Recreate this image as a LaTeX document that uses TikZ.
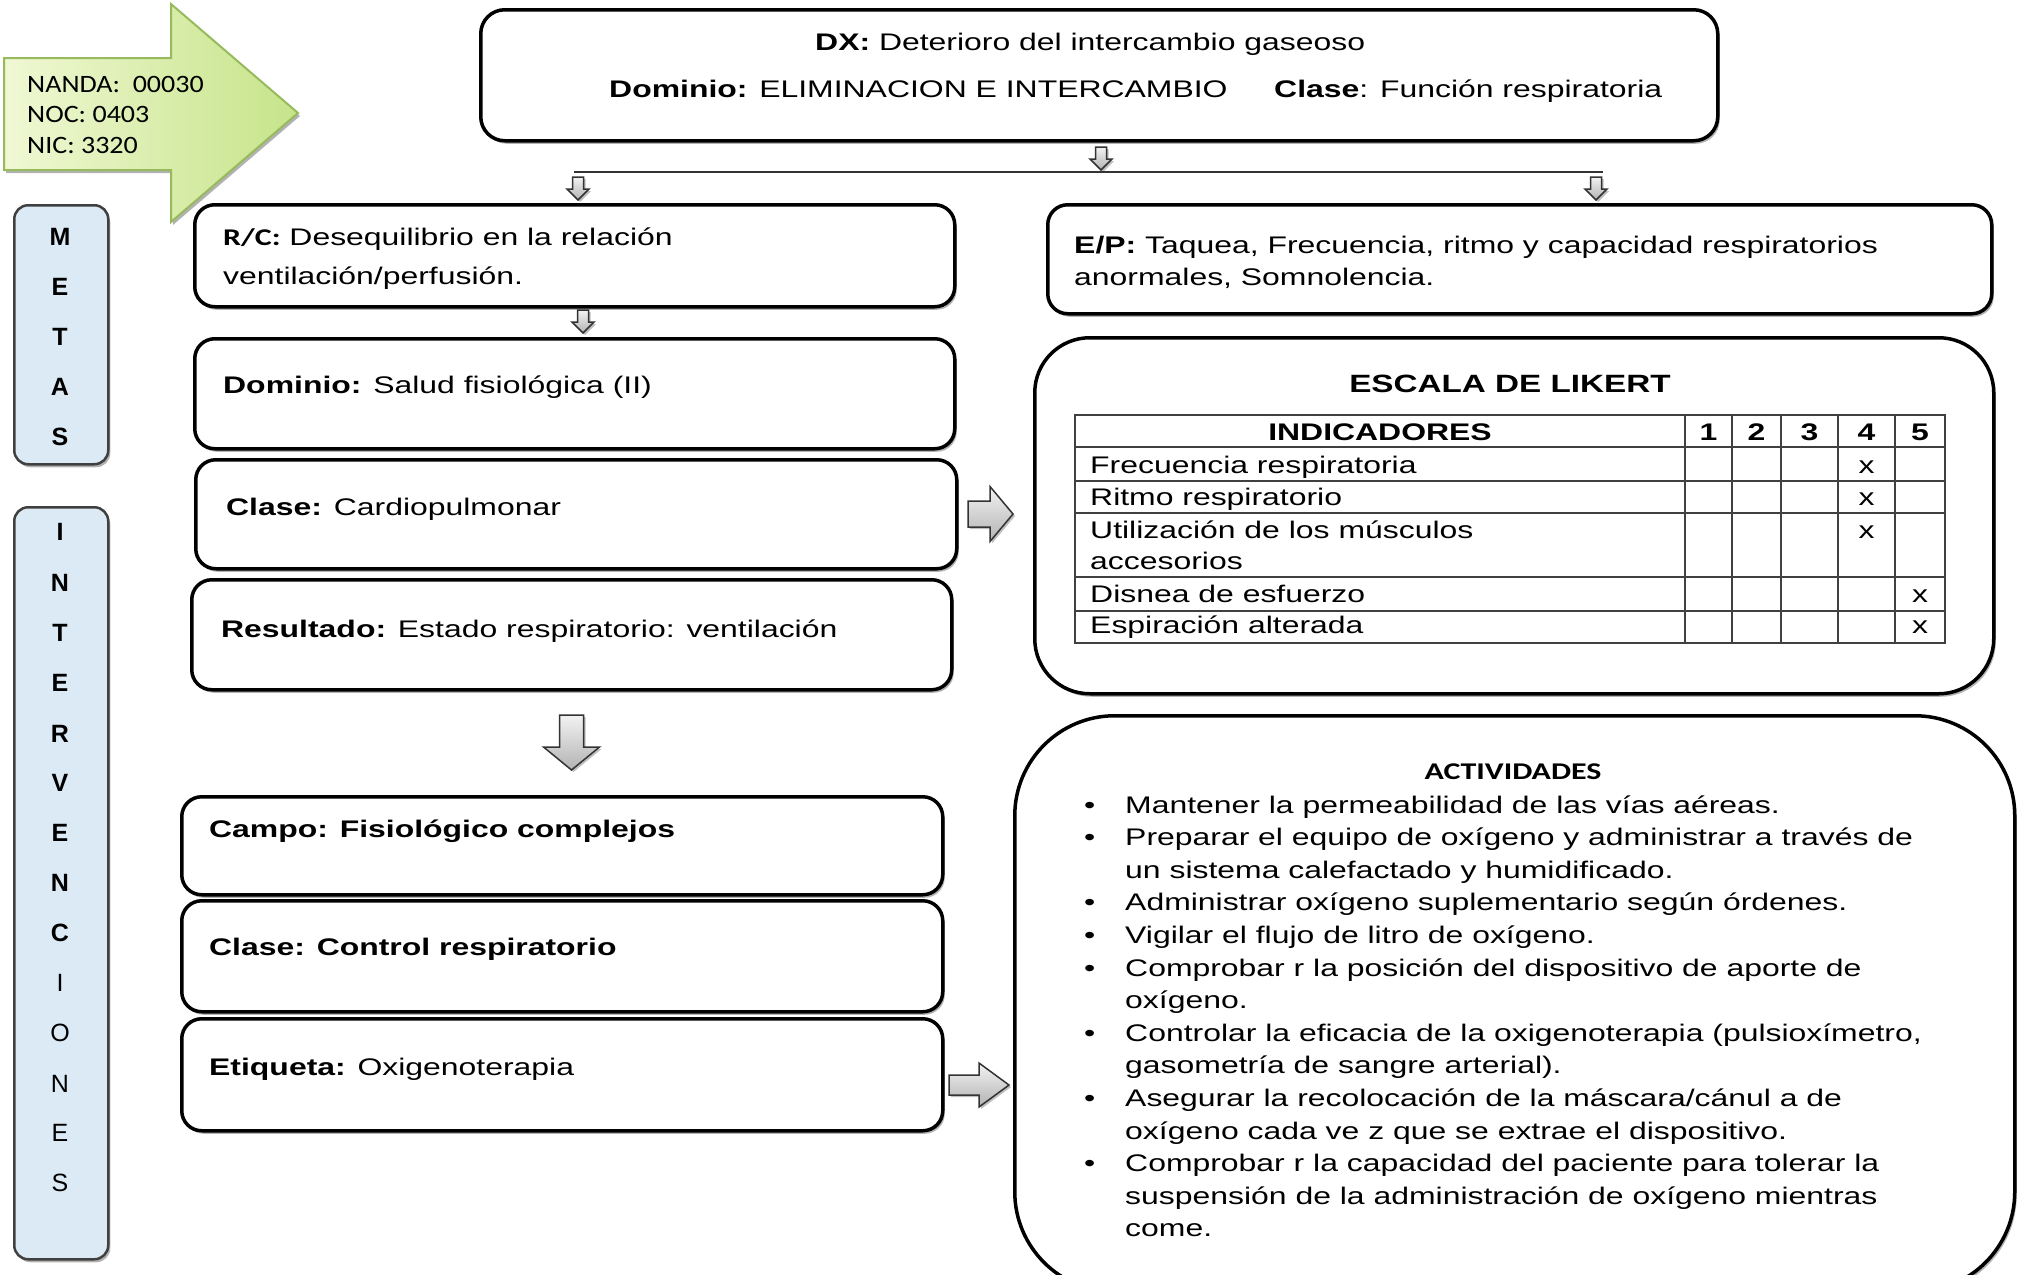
\documentclass[tikz,border=0pt]{standalone}
\usepackage{fontspec}
\setmainfont{Liberation Sans}[FakeStretch=1.33]
\newfontfamily\calfont{Carlito}[FakeStretch=1.33]
\newfontfamily\grfont{Carlito}[FakeStretch=1.12]
\newfontfamily\plainsans{Liberation Sans}
\usetikzlibrary{shadows,calc}
\definecolor{grlight}{RGB}{240,248,212}
\definecolor{grdark}{RGB}{198,228,138}
\definecolor{grborder}{RGB}{150,186,92}
\definecolor{bluefill}{RGB}{219,234,244}
\tikzset{
  shd/.style={drop shadow={shadow xshift=2pt, shadow yshift=-3pt, opacity=0.3, fill=black}},
  box/.style={draw, line width=3.5pt, fill=white, rounded corners=20pt, inner sep=0pt, anchor=north west, shd},
  side/.style={draw=black!75, line width=2.5pt, fill=bluefill, rounded corners=14pt, inner sep=0pt, anchor=north west, shd},
  txt/.style={inner sep=0pt, anchor=base west, font=\fontsize{24pt}{32pt}\selectfont},
  ctxt/.style={txt, anchor=base},
  grtxt/.style={inner sep=0pt, anchor=base west, font=\grfont\fontsize{25pt}{31pt}\selectfont},
  sidelet/.style={inner sep=0pt, anchor=center, font=\plainsans\fontsize{25pt}{30pt}\selectfont},
  blk/.style={draw=black!80, line width=1.5pt, top color=black!5, bottom color=black!30, drop shadow={shadow xshift=2pt, shadow yshift=-2pt, opacity=0.25, fill=black}},
  tline/.style={draw=black!75, line width=1.5pt},
  sarr/.pic={\path[blk] (-5.5,0) -- (5.5,0) -- (5.5,12) -- (11,12) -- (0,23) -- (-11,12) -- (-5.5,12) -- cycle;},
  barr/.pic={\path[blk] (-12,0) -- (12,0) -- (12,32) -- (28,32) -- (0,55) -- (-28,32) -- (-12,32) -- cycle;},
  rarrA/.pic={\path[blk] (0,-13) -- (22,-13) -- (22,-27.5) -- (45,0) -- (22,27.5) -- (22,13) -- (0,13) -- cycle;},
  rarrB/.pic={\path[blk] (0,-10) -- (30,-10) -- (30,-22) -- (60,0) -- (30,22) -- (30,10) -- (0,10) -- cycle;},
}
\begin{document}
\begin{tikzpicture}[x=1pt,y=-1pt]
\useasboundingbox (0,0) rectangle (2018,1274);
\clip (0,0) rectangle (2018,1274);
\fill[white] (0,0) rectangle (2018,1274);

% green arrow with codes
\path[draw=grborder, line width=2pt, left color=grlight, right color=grdark, shd]
  (4,58) -- (171,58) -- (171,4) -- (298,113) -- (171,222) -- (171,170) -- (4,170) -- cycle;
\node[grtxt] (nanda) at (27,92) {NANDA:\ \ 00030};
\node[grtxt] (noc) at (27,122) {NOC: 0403};
\node[grtxt] (nic) at (27,153) {NIC: 3320};

% side boxes
\node[side, minimum width=94pt, minimum height=259pt] (metas) at (13,204) {};
\foreach \l/\yy in {M/237,E/287,T/337,A/387,S/437}
  \node[sidelet, font=\plainsans\bfseries\fontsize{25pt}{30pt}\selectfont] (metas-\yy) at (60,\yy) {\l};
\node[side, minimum width=94pt, minimum height=752pt] (interv) at (13,506) {};
\foreach \l/\yy in {I/532,N/583,T/633,E/683,R/734,V/783,E/833,N/883,C/933}
  \node[sidelet, font=\plainsans\bfseries\fontsize{25pt}{30pt}\selectfont] (interv-\yy) at (60,\yy) {\l};
\foreach \l/\yy in {I/983,O/1033,N/1084,E/1133,S/1183}
  \node[sidelet] (interv-\yy) at (60,\yy) {\l};

% DX box
\node[box, rounded corners=24pt, minimum width=1237pt, minimum height=131pt] (dx) at (479,8) {};
\node[txt] (dx1) at (815,50) {\textbf{DX:} Deterioro del intercambio gaseoso};
\node[txt] (dx2) at (609,97) {\textbf{Dominio:} ELIMINACION E INTERCAMBIO};
\node[txt] (dx3) at (1274,97) {\textbf{Clase}: Función respiratoria};

% branch
\pic at (1101,147) {sarr};
\coordinate (brL) at (574,172);
\coordinate (brR) at (1603,172);
\draw[line width=2pt, black!80] (brL) -- (brR);
\pic at (578,177) {sarr};
\pic at (1596,177) {sarr};

% left column (metas)
\node[box, minimum width=760pt, minimum height=102pt] (rc) at (193,203) {};
\node[txt] (rc1) at (223,245) {{\calfont\bfseries R/C:} Desequilibrio en la relación};
\node[txt] (rc2) at (223,284) {ventilación/perfusión.};
\pic at (583,310) {sarr};
\node[box, minimum width=760pt, minimum height=110pt] (dom) at (193,337) {};
\node[txt] (domt) at (223,393) {\textbf{Dominio:} Salud fisiológica (II)};
\node[box, minimum width=761pt, minimum height=109pt] (cla) at (194,458) {};
\node[txt] (clat) at (226,515) {\textbf{Clase:} Cardiopulmonar};
\node[box, minimum width=760pt, minimum height=110pt] (res) at (190,578) {};
\node[txt] (rest) at (221,637) {\textbf{Resultado:} Estado respiratorio: ventilación};

\pic at (571.5,715) {barr};

% left column (intervenciones)
\node[box, minimum width=761pt, minimum height=98pt] (campo) at (180,795) {};
\node[txt] (campot) at (209,837) {\textbf{Campo: Fisiológico complejos}};
\node[box, minimum width=761pt, minimum height=111pt] (clase2) at (180,899) {};
\node[txt] (clase2t) at (209,955) {\textbf{Clase: Control respiratorio}};
\node[box, minimum width=761pt, minimum height=112pt] (etq) at (180,1017) {};
\node[txt] (etqt) at (209,1075) {\textbf{Etiqueta:} Oxigenoterapia};

\pic at (968,514) {rarrA};
\pic at (949,1085) {rarrB};

% E/P box
\node[box, minimum width=944pt, minimum height=109pt] (ep) at (1046,203) {};
\node[txt] (ep1) at (1074,253) {\textbf{E/P:} Taquea, Frecuencia, ritmo y capacidad respiratorios};
\node[txt] (ep2) at (1074,285) {anormales, Somnolencia.};

% Likert box
\node[box, rounded corners=55pt, minimum width=959pt, minimum height=356pt] (lik) at (1033,336) {};
\node[ctxt, font=\bfseries\fontsize{25pt}{30pt}\selectfont] (likt) at (1510,392) {ESCALA DE LIKERT};
\draw[tline] (1075,415) rectangle (1945,643);
\foreach \xx in {1685,1732,1781,1838,1895} \draw[tline] (\xx,415) -- (\xx,643);
\foreach \yy in {447,481,513,577,611} \draw[tline] (1075,\yy) -- (1945,\yy);
\node[ctxt, font=\bfseries\fontsize{24pt}{30pt}\selectfont] (hind) at (1380,440) {INDICADORES};
\foreach \n/\xx in {1/1708.5,2/1756.5,3/1809.5,4/1866.5,5/1920}
  \node[ctxt, font=\bfseries\fontsize{24pt}{30pt}\selectfont] (h\n) at (\xx,440) {\n};
\node[txt] (r1) at (1090,473) {Frecuencia respiratoria};
\node[txt] (r2) at (1090,505) {Ritmo respiratorio};
\node[txt] (r3a) at (1090,538) {Utilización de los músculos};
\node[txt] (r3b) at (1090,569) {accesorios};
\node[txt] (r4) at (1090,602) {Disnea de esfuerzo};
\node[txt] (r5) at (1090,633) {Espiración alterada};
\node[ctxt] (x1) at (1866.5,473) {x};
\node[ctxt] (x2) at (1866.5,505) {x};
\node[ctxt] (x3) at (1866.5,538) {x};
\node[ctxt] (x4) at (1920,602) {x};
\node[ctxt] (x5) at (1920,633) {x};

% Actividades box
\node[box, rounded corners=100pt, minimum width=1000pt, minimum height=576pt] (act) at (1013,714) {};
\node[ctxt, font=\calfont\bfseries\fontsize{24pt}{30pt}\selectfont] (actt) at (1513,779) {ACTIVIDADES};
\foreach \yy in {813,845.6,910.8,943.4,976,1041.2,1106.4,1171.6}
  \node[txt] (b\yy) at (1084,\yy) {\textbullet};
\node[txt] (l1) at (1125,813) {Mantener la permeabilidad de las vías aéreas.};
\node[txt] (l2) at (1125,845.6) {Preparar el equipo de oxígeno y administrar a través de};
\node[txt] (l3) at (1125,878.2) {un sistema calefactado y humidificado.};
\node[txt] (l4) at (1125,910.8) {Administrar oxígeno suplementario según órdenes.};
\node[txt] (l5) at (1125,943.4) {Vigilar el flujo de litro de oxígeno.};
\node[txt] (l6) at (1125,976) {Comprobar r la posición del dispositivo de aporte de};
\node[txt] (l7) at (1125,1008.6) {oxígeno.};
\node[txt] (l8) at (1125,1041.2) {Controlar la eficacia de la oxigenoterapia (pulsioxímetro,};
\node[txt] (l9) at (1125,1073.8) {gasometría de sangre arterial).};
\node[txt] (l10) at (1125,1106.4) {Asegurar la recolocación de la máscara/cánul a de};
\node[txt] (l11) at (1125,1139) {oxígeno cada ve z que se extrae el dispositivo.};
\node[txt] (l12) at (1125,1171.6) {Comprobar r la capacidad del paciente para tolerar la};
\node[txt] (l13) at (1125,1204.2) {suspensión de la administración de oxígeno mientras};
\node[txt] (l14) at (1125,1236.8) {come.};
\end{tikzpicture}
\end{document}
